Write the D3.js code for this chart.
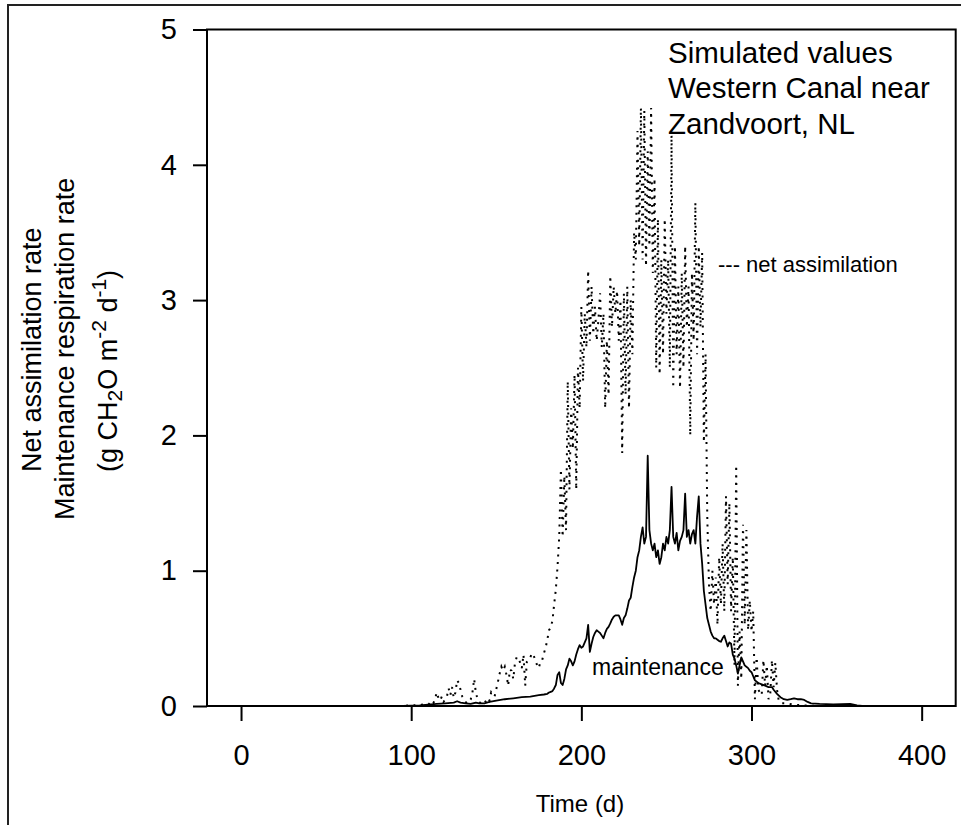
<!DOCTYPE html>
<html><head><meta charset="utf-8">
<script src="https://cdn.jsdelivr.net/npm/d3@7/dist/d3.min.js"></script>
<style>
body{margin:0;background:#fff}
svg{display:block}
text{font-family:"Liberation Sans",Arial,Helvetica,sans-serif;fill:#000}
</style>
</head><body>
<svg id="c" width="961" height="825"></svg>
<script>
// ---------- DATA ----------
const xTicks = [0, 100, 200, 300, 400];
const yTicks = [0, 1, 2, 3, 4, 5];

// Maintenance respiration (solid line): day, value
const maintEarlyDays = [0,95,100,105,110,115,120,125,127,129,132,135,138,140,143,146,150,155,160,165,170,175,178];
const maintEarlyValues = [0,0,0.003,0.005,0.01,0.015,0.02,0.025,0.035,0.025,0.02,0.015,0.025,0.02,0.02,0.03,0.04,0.05,0.057,0.065,0.07,0.08,0.085];
const maintDailyStart = 180; // daily values for days 180..304
const maintDailyValues = [
 0.09,0.1,0.105,0.11,0.13,0.155,0.23,0.25,0.17,0.155,
 0.2,0.27,0.3,0.35,0.33,0.3,0.33,0.38,0.42,0.45,
 0.43,0.44,0.47,0.5,0.6,0.4,0.46,0.51,0.54,0.56,
 0.55,0.54,0.52,0.5,0.54,0.57,0.585,0.61,0.64,0.66,
 0.67,0.67,0.67,0.64,0.6,0.65,0.67,0.72,0.78,0.8,
 0.88,0.95,1.0,1.1,1.15,1.25,1.32,1.2,1.25,1.85,
 1.3,1.2,1.15,1.2,1.1,1.15,1.05,1.1,1.2,1.15,
 1.25,1.2,1.3,1.62,1.25,1.2,1.28,1.15,1.22,1.25,
 1.3,1.57,1.25,1.3,1.2,1.27,1.3,1.2,1.4,1.55,
 1.2,1.05,0.85,0.75,0.65,0.6,0.55,0.52,0.5,0.5,
 0.49,0.48,0.475,0.5,0.52,0.48,0.44,0.47,0.46,0.38,
 0.35,0.3,0.24,0.3,0.36,0.33,0.3,0.29,0.28,0.26,
 0.25,0.22,0.19,0.18,0.17];
const maintLateDays = [306,308,310,312,313,315,317,319,321,323,325,327,329,331,333,335,340,348,358,362,365];
const maintLateValues = [0.16,0.15,0.14,0.14,0.12,0.09,0.065,0.05,0.045,0.05,0.057,0.05,0.05,0.045,0.03,0.02,0.015,0.012,0.015,0.005,0];

// Net assimilation (dotted line)
const netEarlyDays = [0, 95];
const netEarlyValues = [0, 0];
const netDailyStart = 100; // daily values for days 100..318
const netDailyValues = [
 0.005,0.005,0.005,0.008,0.01,0.01,0.01,0.012,0.015,0.015,
 0.02,0.01,0.03,0.02,0.05,0.1,0.06,0.04,0.07,0.03,
 0.05,0.07,0.13,0.08,0.14,0.06,0.1,0.19,0.17,0.12,
 0.07,0.04,0.03,0.02,0.03,0.05,0.1,0.2,0.1,0.05,
 0.03,0.02,0.03,0.02,0.04,0.06,0.04,0.1,0.08,0.07,
 0.125,0.18,0.24,0.29,0.26,0.29,0.23,0.15,0.27,0.26,
 0.2,0.32,0.36,0.36,0.32,0.28,0.38,0.15,0.33,0.35,
 0.36,0.39,0.37,0.34,0.3,0.28,0.33,0.34,0.39,0.43,
 0.49,0.56,0.58,0.63,0.75,0.86,1.03,1.25,1.75,1.25,
 1.7,1.3,2.4,1.6,2.2,1.9,2.45,1.6,2.5,2.2,
 2.95,2.4,2.9,2.65,3.22,2.7,3.1,2.75,2.95,2.7,
 2.85,3.05,2.65,2.9,2.2,2.7,2.3,3.18,2.8,3.1,
 2.9,3.07,2.7,3.0,1.87,3.05,2.3,3.1,2.2,3.0,
 2.6,3.5,3.3,4.25,3.4,4.42,3.3,4.4,3.25,4.1,
 3.4,4.42,3.2,3.9,2.5,3.6,2.45,3.3,2.6,3.6,
 2.9,3.3,2.5,4.22,2.35,3.4,2.6,3.1,2.35,3.2,
 2.5,3.4,2.8,3.1,2.0,3.2,2.7,3.72,2.6,3.4,
 2.8,3.35,1.95,2.6,1.4,0.9,0.7,1.0,0.75,0.95,
 0.6,1.1,0.75,1.2,0.7,1.55,0.9,1.5,0.7,1.1,
 0.3,1.78,0.15,0.55,0.2,1.34,0.6,1.3,0.56,0.78,
 0.55,0.7,0.05,0.36,0.12,0.1,0.08,0.34,0.15,0.3,
 0.05,0.08,0.34,0.14,0.32,0.12,0.04,0.03,0.02];
const netLateDays = [320, 325, 330, 340, 365];
const netLateValues = [0.02, 0.01, 0.005, 0, 0];

const titleLines = ["Simulated values", "Western Canal near", "Zandvoort, NL"];

// ---------- BUILD SERIES ----------
function build(eD, eV, start, daily, lD, lV) {
  const out = [];
  eD.forEach((d, i) => out.push({day: d, v: eV[i]}));
  daily.forEach((v, i) => out.push({day: start + i, v: v}));
  lD.forEach((d, i) => out.push({day: d, v: lV[i]}));
  return out;
}
const maint = build(maintEarlyDays, maintEarlyValues, maintDailyStart, maintDailyValues, maintLateDays, maintLateValues);
const net = build(netEarlyDays, netEarlyValues, netDailyStart, netDailyValues, netLateDays, netLateValues);

// ---------- CHART ----------
const svg = d3.select("#c");
const x = d3.scaleLinear().domain([-20, 420]).range([207, 955.7]);
const y = d3.scaleLinear().domain([0, 5]).range([706, 29.5]);

// outer frame (extends beyond the viewport on right/bottom)
svg.append("rect").attr("x", 8).attr("y", 5).attr("width", 1000).attr("height", 900)
  .attr("fill", "none").attr("stroke", "#222").attr("stroke-width", 2);

// lines
const line = d3.line().x(d => x(d.day)).y(d => y(d.v));
svg.append("path").datum(net).attr("d", line)
  .attr("fill", "none").attr("stroke", "#000").attr("stroke-width", 2)
  .attr("stroke-dasharray", "2,5.5");
svg.append("path").datum(maint).attr("d", line)
  .attr("fill", "none").attr("stroke", "#000").attr("stroke-width", 1.8)
  .attr("stroke-linejoin", "round");

// plot box
svg.append("rect").attr("x", x.range()[0]).attr("y", y.range()[1])
  .attr("width", x.range()[1] - x.range()[0]).attr("height", y.range()[0] - y.range()[1])
  .attr("fill", "none").attr("stroke", "#000").attr("stroke-width", 2);

// axes
const yAxis = svg.append("g").attr("transform", `translate(${x.range()[0]},0)`)
  .call(d3.axisLeft(y).tickValues(yTicks).tickSize(14).tickPadding(16).tickFormat(d3.format("d")));
yAxis.select(".domain").remove();
yAxis.selectAll("line").attr("stroke", "#000").attr("stroke-width", 2);
yAxis.selectAll("text").attr("font-size", 29).attr("font-family", "Liberation Sans, Arial, sans-serif").attr("fill", "#000");

const xAxis = svg.append("g").attr("transform", `translate(0,${y.range()[0]})`)
  .call(d3.axisBottom(x).tickValues(xTicks).tickSize(15).tickFormat(d3.format("d")));
xAxis.select(".domain").remove();
xAxis.selectAll("line").attr("stroke", "#000").attr("stroke-width", 2);
xAxis.selectAll("text").attr("font-size", 29).attr("font-family", "Liberation Sans, Arial, sans-serif")
  .attr("fill", "#000").attr("y", 59).attr("dy", 0);

// x title
svg.append("text").attr("x", 580).attr("y", 812).attr("text-anchor", "middle")
  .attr("font-size", 24).text("Time (d)");

// y title
const yl = svg.append("g").attr("font-size", 27);
yl.append("text").attr("transform", "translate(40.5,472) rotate(-90)").text("Net assimilation rate");
yl.append("text").attr("transform", "translate(73.5,520) rotate(-90)").text("Maintenance respiration rate");
const t3 = yl.append("text").attr("transform", "translate(117,472) rotate(-90)");
t3.append("tspan").text("(g CH");
t3.append("tspan").attr("font-size", 21).attr("dy", 5).text("2");
t3.append("tspan").attr("dy", -5).text("O m");
t3.append("tspan").attr("font-size", 21).attr("dy", -11).text("-2");
t3.append("tspan").attr("dy", 11).text(" d");
t3.append("tspan").attr("font-size", 21).attr("dy", -11).text("-1");
t3.append("tspan").attr("dy", 11).text(")");

// annotation title
svg.append("g").selectAll("text").data(titleLines).join("text")
  .attr("x", 668).attr("y", (d, i) => 63 + i * 35.3).attr("font-size", 29.5).text(d => d);

svg.append("text").attr("x", 718).attr("y", 272).attr("font-size", 22).text("--- net assimilation");
svg.append("text").attr("x", 592).attr("y", 675).attr("font-size", 23).text("maintenance");
</script>
</body></html>
